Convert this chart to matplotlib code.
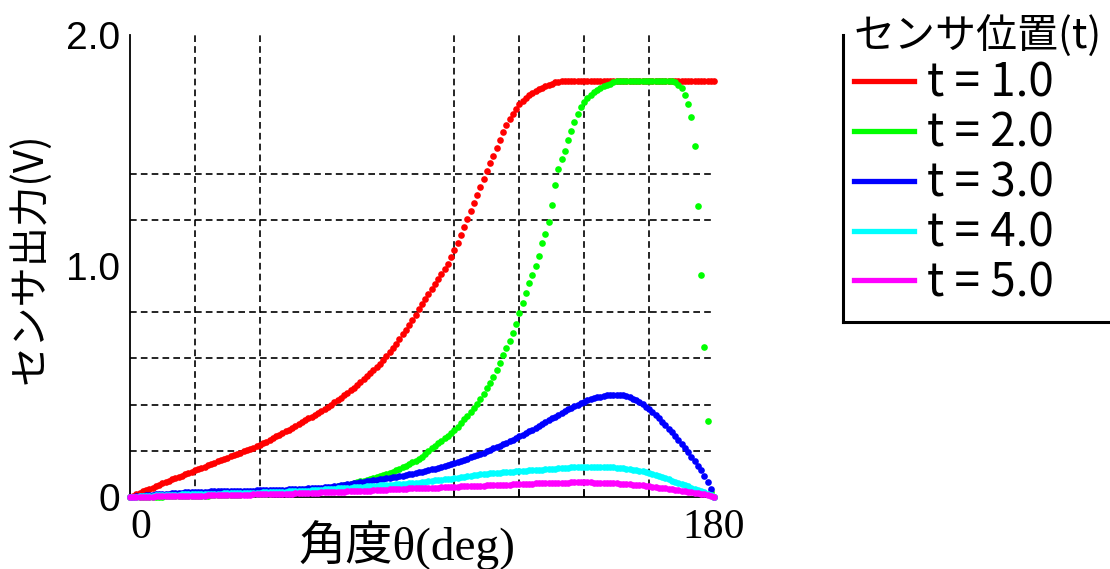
import matplotlib
matplotlib.use("Agg")
import matplotlib.pyplot as plt
from matplotlib.lines import Line2D

# sensor output vs angle, one value per degree (0..180)
angle = list(range(0, 181))

t1 = [0.000, 0.006, 0.012, 0.018, 0.024, 0.030, 0.036, 0.041, 0.047, 0.053,
      0.059, 0.064, 0.070, 0.076, 0.082, 0.087, 0.093, 0.099, 0.105, 0.110,
      0.116, 0.121, 0.127, 0.132, 0.138, 0.143, 0.149, 0.154, 0.160, 0.165,
      0.170, 0.176, 0.181, 0.187, 0.192, 0.198, 0.203, 0.209, 0.214, 0.220,
      0.225, 0.232, 0.240, 0.247, 0.255, 0.262, 0.270, 0.277, 0.285, 0.292,
      0.300, 0.308, 0.316, 0.324, 0.332, 0.340, 0.348, 0.356, 0.365, 0.374,
      0.383, 0.391, 0.400, 0.410, 0.420, 0.430, 0.440, 0.451, 0.462, 0.473,
      0.485, 0.497, 0.509, 0.522, 0.535, 0.548, 0.562, 0.577, 0.592, 0.609,
      0.626, 0.645, 0.664, 0.684, 0.704, 0.725, 0.746, 0.768, 0.790, 0.812,
      0.835, 0.857, 0.880, 0.901, 0.922, 0.943, 0.965, 0.987, 1.010, 1.038,
      1.068, 1.101, 1.135, 1.170, 1.204, 1.238, 1.272, 1.306, 1.340, 1.375,
      1.410, 1.444, 1.478, 1.512, 1.545, 1.578, 1.610, 1.637, 1.660, 1.681,
      1.700, 1.715, 1.728, 1.740, 1.750, 1.758, 1.765, 1.772, 1.778, 1.784,
      1.790, 1.795, 1.798, 1.800, 1.800, 1.800, 1.800, 1.800, 1.800, 1.800,
      1.800, 1.800, 1.800, 1.800, 1.800, 1.800, 1.800, 1.800, 1.800, 1.800,
      1.800, 1.800, 1.800, 1.800, 1.800, 1.800, 1.800, 1.800, 1.800, 1.800,
      1.800, 1.800, 1.800, 1.800, 1.800, 1.800, 1.800, 1.800, 1.800, 1.800,
      1.800, 1.800, 1.800, 1.800, 1.800, 1.800, 1.800, 1.800, 1.800, 1.800,
      1.800]

t2 = [0.000, 0.000, 0.000, 0.001, 0.001, 0.001, 0.001, 0.002, 0.002, 0.002,
      0.002, 0.003, 0.003, 0.003, 0.003, 0.004, 0.004, 0.004, 0.004, 0.005,
      0.005, 0.005, 0.006, 0.006, 0.006, 0.007, 0.007, 0.007, 0.008, 0.008,
      0.008, 0.009, 0.009, 0.010, 0.010, 0.011, 0.011, 0.012, 0.012, 0.013,
      0.013, 0.014, 0.015, 0.015, 0.016, 0.017, 0.018, 0.019, 0.020, 0.021,
      0.022, 0.023, 0.024, 0.025, 0.027, 0.028, 0.030, 0.031, 0.033, 0.035,
      0.037, 0.039, 0.041, 0.043, 0.046, 0.048, 0.051, 0.054, 0.057, 0.061,
      0.065, 0.068, 0.071, 0.075, 0.078, 0.082, 0.086, 0.090, 0.095, 0.100,
      0.105, 0.110, 0.116, 0.122, 0.128, 0.135, 0.142, 0.150, 0.158, 0.165,
      0.175, 0.187, 0.198, 0.210, 0.221, 0.232, 0.243, 0.255, 0.266, 0.278,
      0.291, 0.305, 0.320, 0.336, 0.352, 0.368, 0.385, 0.403, 0.424, 0.446,
      0.470, 0.495, 0.520, 0.548, 0.580, 0.613, 0.645, 0.675, 0.710, 0.750,
      0.795, 0.840, 0.885, 0.925, 0.962, 1.000, 1.045, 1.100, 1.140, 1.190,
      1.265, 1.350, 1.420, 1.465, 1.500, 1.545, 1.585, 1.625, 1.660, 1.688,
      1.710, 1.728, 1.742, 1.754, 1.764, 1.772, 1.780, 1.785, 1.790, 1.795,
      1.800, 1.800, 1.800, 1.800, 1.800, 1.800, 1.800, 1.800, 1.800, 1.800,
      1.800, 1.800, 1.800, 1.800, 1.800, 1.800, 1.800, 1.800, 1.795, 1.785,
      1.770, 1.740, 1.700, 1.645, 1.520, 1.260, 0.960, 0.650, 0.330, 0.020,
      0.000]

t3 = [0.000, 0.002, 0.003, 0.005, 0.006, 0.008, 0.009, 0.010, 0.011, 0.012,
      0.013, 0.014, 0.015, 0.016, 0.017, 0.018, 0.019, 0.020, 0.020, 0.021,
      0.021, 0.022, 0.022, 0.023, 0.023, 0.024, 0.024, 0.025, 0.025, 0.025,
      0.026, 0.026, 0.026, 0.027, 0.027, 0.027, 0.028, 0.028, 0.028, 0.029,
      0.029, 0.029, 0.030, 0.030, 0.030, 0.031, 0.031, 0.032, 0.032, 0.033,
      0.033, 0.034, 0.034, 0.035, 0.036, 0.037, 0.038, 0.039, 0.040, 0.041,
      0.042, 0.044, 0.045, 0.047, 0.049, 0.051, 0.053, 0.055, 0.057, 0.060,
      0.062, 0.064, 0.066, 0.068, 0.070, 0.072, 0.074, 0.076, 0.079, 0.081,
      0.083, 0.086, 0.088, 0.090, 0.093, 0.095, 0.098, 0.101, 0.104, 0.107,
      0.110, 0.113, 0.116, 0.120, 0.123, 0.127, 0.131, 0.135, 0.139, 0.143,
      0.147, 0.152, 0.156, 0.161, 0.166, 0.171, 0.176, 0.181, 0.186, 0.192,
      0.198, 0.204, 0.210, 0.216, 0.222, 0.228, 0.234, 0.241, 0.248, 0.255,
      0.262, 0.269, 0.276, 0.284, 0.292, 0.300, 0.308, 0.316, 0.324, 0.332,
      0.340, 0.348, 0.356, 0.364, 0.372, 0.379, 0.386, 0.393, 0.400, 0.406,
      0.412, 0.418, 0.423, 0.428, 0.432, 0.435, 0.438, 0.440, 0.442, 0.443,
      0.443, 0.442, 0.440, 0.436, 0.431, 0.425, 0.418, 0.410, 0.401, 0.391,
      0.380, 0.368, 0.355, 0.341, 0.326, 0.311, 0.295, 0.280, 0.265, 0.248,
      0.230, 0.212, 0.194, 0.175, 0.156, 0.136, 0.115, 0.092, 0.067, 0.035,
      0.000]

t4 = [0.000, 0.001, 0.002, 0.003, 0.004, 0.005, 0.005, 0.006, 0.007, 0.007,
      0.008, 0.008, 0.009, 0.009, 0.010, 0.010, 0.011, 0.011, 0.012, 0.012,
      0.013, 0.013, 0.013, 0.014, 0.014, 0.014, 0.015, 0.015, 0.015, 0.016,
      0.016, 0.016, 0.017, 0.017, 0.017, 0.018, 0.018, 0.018, 0.019, 0.019,
      0.019, 0.020, 0.020, 0.021, 0.021, 0.022, 0.022, 0.023, 0.023, 0.024,
      0.024, 0.025, 0.026, 0.026, 0.027, 0.028, 0.029, 0.030, 0.031, 0.032,
      0.033, 0.034, 0.035, 0.036, 0.037, 0.038, 0.039, 0.040, 0.041, 0.042,
      0.043, 0.044, 0.045, 0.046, 0.047, 0.048, 0.049, 0.050, 0.051, 0.052,
      0.053, 0.054, 0.055, 0.056, 0.057, 0.058, 0.059, 0.060, 0.061, 0.062,
      0.064, 0.066, 0.068, 0.070, 0.072, 0.073, 0.075, 0.077, 0.078, 0.080,
      0.082, 0.084, 0.086, 0.088, 0.090, 0.092, 0.094, 0.096, 0.098, 0.100,
      0.101, 0.103, 0.104, 0.105, 0.106, 0.107, 0.108, 0.109, 0.110, 0.111,
      0.112, 0.113, 0.114, 0.115, 0.116, 0.117, 0.118, 0.119, 0.120, 0.121,
      0.122, 0.123, 0.124, 0.125, 0.126, 0.127, 0.128, 0.129, 0.129, 0.130,
      0.130, 0.131, 0.131, 0.131, 0.131, 0.131, 0.130, 0.130, 0.129, 0.128,
      0.127, 0.126, 0.124, 0.122, 0.120, 0.118, 0.116, 0.114, 0.111, 0.108,
      0.104, 0.100, 0.096, 0.091, 0.086, 0.081, 0.076, 0.071, 0.066, 0.061,
      0.056, 0.051, 0.046, 0.041, 0.036, 0.031, 0.026, 0.020, 0.014, 0.007,
      0.000]

t5 = [0.000, 0.000, 0.001, 0.001, 0.001, 0.002, 0.002, 0.002, 0.003, 0.003,
      0.003, 0.003, 0.004, 0.004, 0.004, 0.004, 0.005, 0.005, 0.005, 0.005,
      0.006, 0.006, 0.006, 0.006, 0.007, 0.007, 0.007, 0.007, 0.008, 0.008,
      0.008, 0.008, 0.009, 0.009, 0.009, 0.010, 0.010, 0.010, 0.011, 0.011,
      0.011, 0.012, 0.012, 0.012, 0.013, 0.013, 0.014, 0.014, 0.014, 0.015,
      0.015, 0.016, 0.016, 0.017, 0.017, 0.018, 0.018, 0.019, 0.019, 0.020,
      0.020, 0.021, 0.021, 0.022, 0.022, 0.023, 0.023, 0.024, 0.024, 0.025,
      0.025, 0.026, 0.026, 0.027, 0.028, 0.029, 0.029, 0.030, 0.031, 0.032,
      0.033, 0.033, 0.034, 0.035, 0.035, 0.036, 0.037, 0.037, 0.038, 0.038,
      0.039, 0.039, 0.040, 0.040, 0.041, 0.041, 0.042, 0.042, 0.043, 0.044,
      0.045, 0.045, 0.046, 0.046, 0.047, 0.047, 0.048, 0.048, 0.049, 0.049,
      0.050, 0.050, 0.051, 0.051, 0.052, 0.052, 0.053, 0.054, 0.055, 0.056,
      0.056, 0.057, 0.057, 0.058, 0.058, 0.059, 0.059, 0.060, 0.060, 0.061,
      0.061, 0.061, 0.062, 0.062, 0.062, 0.062, 0.063, 0.063, 0.063, 0.063,
      0.063, 0.063, 0.063, 0.062, 0.062, 0.062, 0.061, 0.061, 0.060, 0.059,
      0.059, 0.058, 0.057, 0.056, 0.055, 0.054, 0.053, 0.051, 0.050, 0.048,
      0.046, 0.045, 0.043, 0.041, 0.039, 0.037, 0.035, 0.033, 0.031, 0.029,
      0.027, 0.025, 0.023, 0.021, 0.019, 0.017, 0.014, 0.011, 0.008, 0.004,
      0.000]

series = [t1, t2, t3, t4, t5]
labels = ["t = 1.0", "t = 2.0", "t = 3.0", "t = 4.0", "t = 5.0"]
colors = ["#ff0000", "#00ff00", "#0000ff", "#00ffff", "#ff00ff"]

cjk = ["Noto Sans CJK JP", "DejaVu Sans"]
serif = ["Liberation Serif", "Noto Sans CJK JP"]

fig = plt.figure(figsize=(11.1, 5.69), dpi=100)
ax = fig.add_axes([130 / 1110, 1 - 497 / 569, 584 / 1110, 462 / 569])

for vals, col in zip(series, colors):
    ax.plot(angle, vals, linestyle="none", marker="o", ms=4.8, mew=0,
            color=col, clip_on=False, zorder=3)

ax.set_xlim(0, 180)
ax.set_ylim(0, 2.0)

# grid only on some positions, as in the original
ax.set_xticks([0, 180])
ax.set_xticklabels(["0", "180"], family=serif, fontsize=30)
ax.set_xticks([20, 40, 100, 120, 140, 160, 180], minor=True)
ax.set_yticks([0, 1.0, 2.0])
ax.set_yticklabels(["0", "1.0", "2.0"], family="Liberation Sans", fontsize=28)
ax.set_yticks([0.2, 0.4, 0.6, 0.8, 1.0, 1.2, 1.4], minor=True)
ax.xaxis.get_majorticklabels()[0].set_horizontalalignment("left")

ax.tick_params(axis="x", which="major", length=0, pad=8)
ax.tick_params(axis="y", which="major", length=0, pad=7)
ax.tick_params(axis="y", which="minor", length=0)
ax.tick_params(axis="x", which="minor", direction="in", length=6, width=1.2)
for tk in ax.xaxis.get_minor_ticks():
    if tk.get_loc() in (20, 40, 180):
        tk.tick1line.set_visible(False)

ax.grid(which="minor", color="black", linestyle=(0, (4, 2.5)), linewidth=1.2)
ax.set_axisbelow(True)

for side in ["top", "right"]:
    ax.spines[side].set_visible(False)
for side in ["left", "bottom"]:
    ax.spines[side].set_linewidth(1.3)
    ax.spines[side].set_color("black")

ax.set_xlabel("角度θ(deg)", family=serif, fontsize=34)
ax.xaxis.set_label_coords((407 - 130) / 584, (497 - 545) / 462)
ax.xaxis.label.set_verticalalignment("center")
ax.set_ylabel("センサ出力(V)", family=cjk, fontsize=29)
ax.yaxis.set_label_coords((30 - 130) / 584, (497 - 258) / 462)
ax.yaxis.label.set_verticalalignment("center")

handles = [Line2D([], [], color=c, lw=3.8) for c in colors]
leg = fig.legend(handles, labels, title="センサ位置(t)", loc="upper left",
                 bbox_to_anchor=(854 / 1110, 1 - 16 / 569), frameon=False,
                 prop={"family": cjk, "size": 33}, handlelength=1.3,
                 handletextpad=0.3, labelspacing=0.03, borderaxespad=0,
                 borderpad=0)
leg.get_title().set_fontfamily(cjk)
leg.get_title().set_fontsize(29.5)
leg._legend_box.align = "left"

# L-shaped border around the legend
fig.add_artist(Line2D([843 / 1110, 843 / 1110], [1 - 35 / 569, 1 - 322 / 569],
                      color="black", lw=2.2, transform=fig.transFigure))
fig.add_artist(Line2D([843 / 1110, 1.0], [1 - 322 / 569, 1 - 322 / 569],
                      color="black", lw=2.2, transform=fig.transFigure))

fig.savefig("out.png", dpi=100)
